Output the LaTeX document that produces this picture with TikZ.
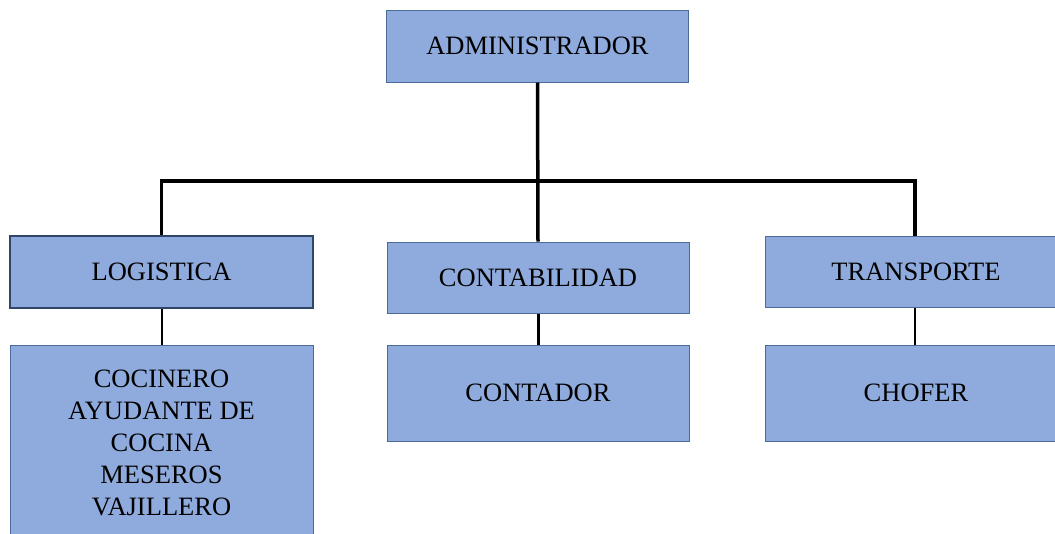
\documentclass[tikz,border=0pt]{standalone}
\usepackage{fontspec}
\setmainfont{Liberation Serif}
\definecolor{boxfill}{HTML}{8FAADC}
\definecolor{boxline}{HTML}{4A6A9A}
\definecolor{boxdark}{HTML}{2F4668}
\begin{document}
\begin{tikzpicture}[x=1pt,y=-1pt,
  unit/.style={draw=boxline, line width=1pt, fill=boxfill, minimum width=302pt, inner sep=0pt,
    font=\fontsize{26.5}{32}\selectfont, align=center},
  thickline/.style={line width=3.5pt},
  thinline/.style={line width=2pt}]
\useasboundingbox (0,0) rectangle (1055,533);
\node[unit, minimum height=72pt] (adm) at (537.5,46) {ADMINISTRADOR};
\node[unit, minimum height=72pt, draw=boxdark, line width=1.6pt, minimum width=303pt] (log) at (161.5,272) {LOGISTICA};
\node[unit, minimum height=71pt] (cont) at (538,277.5) {CONTABILIDAD};
\node[unit, minimum height=71pt] (tra) at (916,271.5) {TRANSPORTE};
\node[unit, minimum height=196pt, minimum width=303pt] (coc) at (161.5,443) {COCINERO\\AYUDANTE DE\\COCINA\\MESEROS\\VAJILLERO};
\node[unit, minimum height=96pt] (ctd) at (538,393) {CONTADOR};
\node[unit, minimum height=96pt] (cho) at (916,393) {CHOFER};
\coordinate (j) at (537.5,181);
\draw[thickline] (adm.south) -- (cont.north);
\draw[thickline] (log.north -| 161.5,0) |- (j) -| (tra.north -| 915,0);
\draw[thinline] (log.south) -- (coc.north);
\draw[line width=3pt] (cont.south) -- (ctd.north);
\draw[thinline] (tra.south -| 915,0) -- (cho.north -| 915,0);
\end{tikzpicture}
\end{document}
